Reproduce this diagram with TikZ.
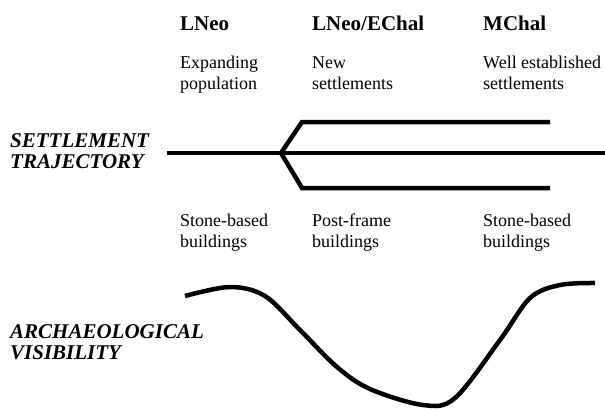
\documentclass[tikz,border=0pt]{standalone}
\usepackage{fontspec}
\setmainfont{Liberation Serif}
\usetikzlibrary{positioning}

\begin{document}
\begin{tikzpicture}[
  x=1pt, y=-1pt,
  period/.style={font=\fontsize{21}{24}\selectfont\bfseries,anchor=base west,inner sep=0pt},
  note/.style={font=\fontsize{18}{20.5}\selectfont,align=left,anchor=base west,inner sep=0pt},
  rowlabel/.style={font=\fontsize{21}{21}\selectfont\bfseries\itshape,align=left,anchor=base west,inner sep=0pt},
  track/.style={line width=4.5pt,line join=miter}
]
\useasboundingbox (0,0) rectangle (605,410);

% period headings
\node[period] (lneo) at (180,30) {LNeo};
\node[period] (lneoechal) at (312,30) {LNeo/EChal};
\node[period] (mchal) at (483,30) {MChal};

% settlement notes (anchored on the last line)
\node[note] (expand) at (180,89) {Expanding\\population};
\node[note] (newset) at (312,89) {New\\settlements};
\node[note] (wellset) at (483,89) {Well established\\settlements};

% building notes
\node[note] (stone1) at (180,247) {Stone-based\\buildings};
\node[note] (postframe) at (312,247) {Post-frame\\buildings};
\node[note] (stone2) at (483,247) {Stone-based\\buildings};

% row labels
\node[rowlabel] (settle) at (10,168) {SETTLEMENT\\TRAJECTORY};
\node[rowlabel] (visib) at (10,359) {ARCHAEOLOGICAL\\VISIBILITY};

% settlement trajectory
\coordinate (start) at (167,153);
\coordinate (fork) at (281,153);
\coordinate (stop) at (605,153);
\coordinate (upbend) at (302,122);
\coordinate (upend) at (550,122);
\coordinate (lowbend) at (302,188);
\coordinate (lowend) at (550,188);
\draw[track] (start) -- (stop);
\draw[track] (upend) -- (upbend) -- (fork) -- (lowbend) -- (lowend);

% visibility curve
\draw[line width=4.5pt] plot[smooth,tension=0.55] coordinates {
  (185,296) (230,287) (265,296) (300,330) (337,367) (370,389)
  (423,405) (455,398) (500,340) (530,298) (560,285) (595,283)};
\end{tikzpicture}
\end{document}
